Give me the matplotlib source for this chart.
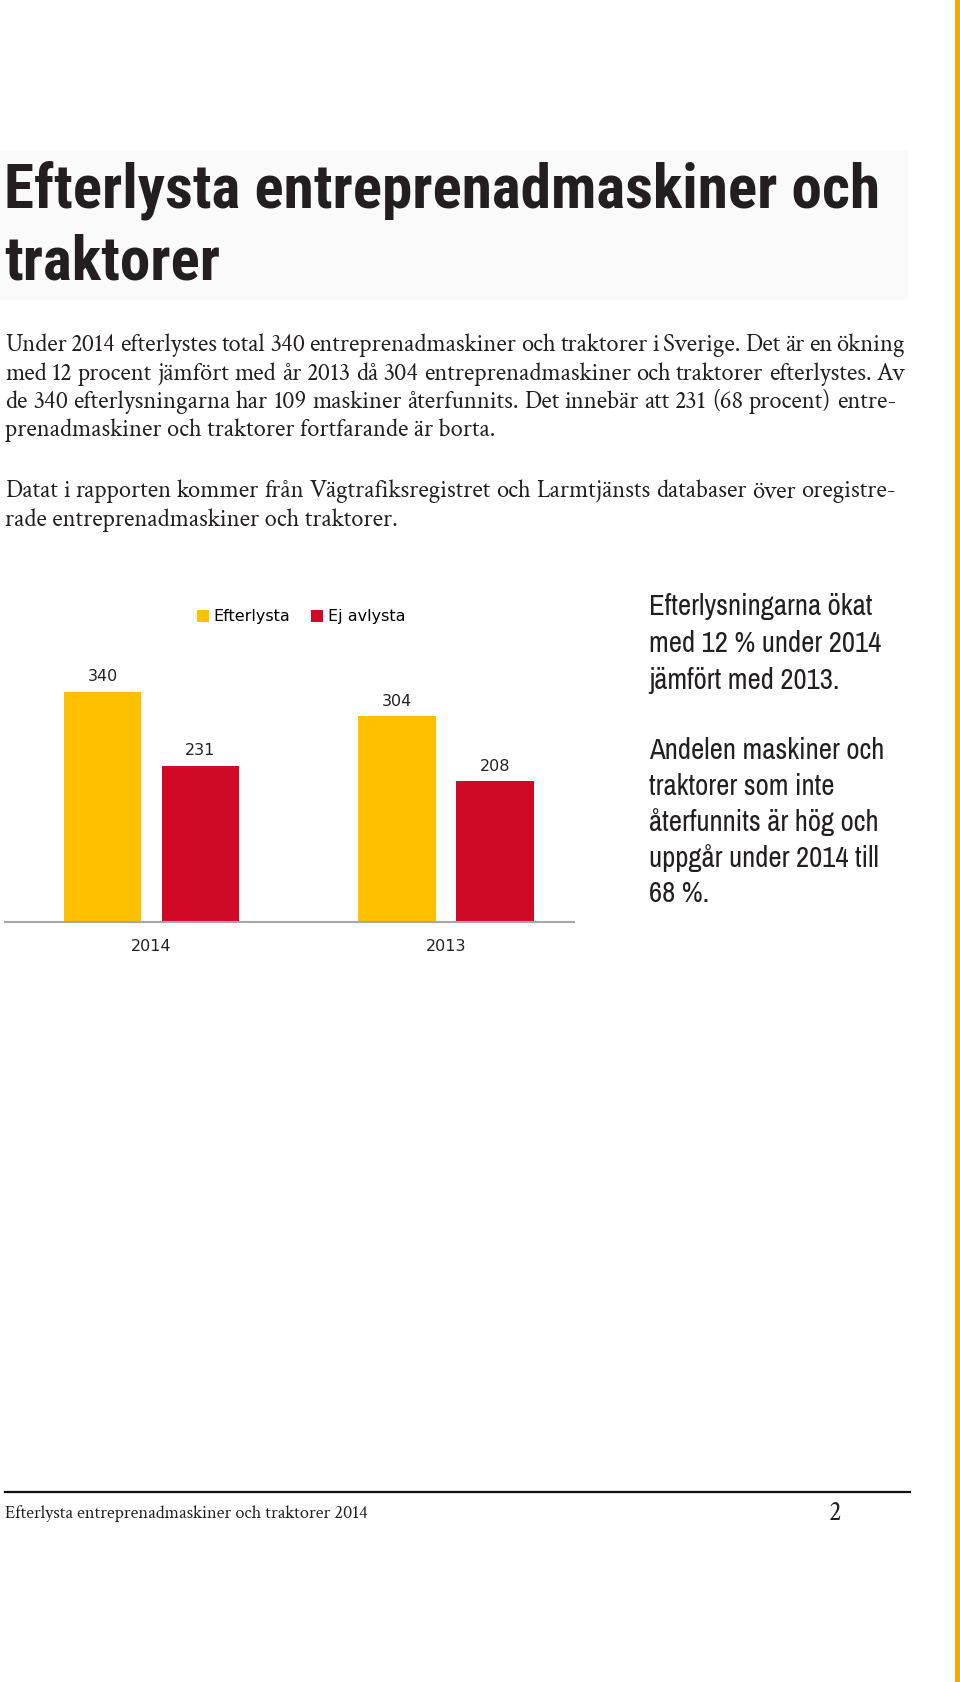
import matplotlib
matplotlib.use('Agg')
import matplotlib.pyplot as plt
import numpy as np
from matplotlib.patches import Rectangle, Patch
from matplotlib.lines import Line2D

# ---------------- data ----------------
years = ['2014', '2013']
efterlysta = [340, 304]
ej_avlysta = [231, 208]
series_names = ['Efterlysta', 'Ej avlysta']

title_lines = ['Efterlysta entreprenadmaskiner och', 'traktorer']
para1 = [
    'Under 2014 efterlystes total 340 entreprenadmaskiner och traktorer i Sverige. Det är en ökning',
    'med 12 procent jämfört med år 2013 då 304 entreprenadmaskiner och traktorer efterlystes. Av',
    'de 340 efterlysningarna har 109 maskiner återfunnits. Det innebär att 231 (68 procent) entre-',
    'prenadmaskiner och traktorer fortfarande är borta.',
]
para2 = [
    'Datat i rapporten kommer från Vägtrafiksregistret och Larmtjänsts databaser över oregistre-',
    'rade entreprenadmaskiner och traktorer.',
]
side_par1 = ['Efterlysningarna ökat', 'med 12 % under 2014', 'jämfört med 2013.']
side_par2 = ['Andelen maskiner och', 'traktorer som inte', 'återfunnits är hög och',
             'uppgår under 2014 till', '68 %.']
footer_text = 'Efterlysta entreprenadmaskiner och traktorer 2014'
page_number = '2'

# ---------------- figure ----------------
W, H = 960, 1682
fig = plt.figure(figsize=(W / 100, H / 100), dpi=100)
fig.patch.set_facecolor('white')
renderer = fig.canvas.get_renderer()

TITLE = ['Roboto Condensed', 'PT Sans Narrow', 'Encode Sans Condensed', 'DejaVu Sans']
COND = ['Archivo Narrow', 'Roboto Condensed', 'Encode Sans Condensed', 'DejaVu Sans']
SERIF = ['Crimson Text', 'Liberation Serif', 'DejaVu Serif']
SANS = ['DejaVu Sans']
INK = '#231f20'


def fx(x):
    return x / W


def fy(y):
    return 1 - y / H


def fit_size(text, target, base=20, **kw):
    t = fig.text(0, 0, text, size=base, **kw)
    w = t.get_window_extent(renderer).width
    t.remove()
    return base * target / w


# orange stripe on the right edge
fig.patches.append(Rectangle((fx(955), 0), fx(5), 1, transform=fig.transFigure,
                             facecolor='#F4A900', edgecolor='none', zorder=0))
# faint title background
fig.patches.append(Rectangle((0, fy(300)), fx(908), (300 - 150) / H, transform=fig.transFigure,
                             facecolor='#fafafa', edgecolor='none', zorder=0))

# ---------------- title ----------------
tsize = fit_size(title_lines[0], 873, family=TITLE, weight='bold')
for line, base in zip(title_lines, [208, 279]):
    fig.text(fx(4), fy(base), line, ha='left', va='baseline', family=TITLE, weight='bold',
             size=tsize, color=INK)

# ---------------- body paragraphs (justified) ----------------
bsize = fit_size(para1[-1], 490, family=SERIF)
body_font = dict(family=SERIF, size=bsize, color=INK)
X0 = 5


def draw_para(lines, baselines):
    for i, (line, base) in enumerate(zip(lines, baselines)):
        if i == len(lines) - 1:
            fig.text(fx(X0), fy(base), line, ha='left', va='baseline', **body_font)
            continue
        x1 = 896 if line.endswith('-') else 905
        words = line.split(' ')
        arts = [fig.text(0, fy(base), w, ha='left', va='baseline', **body_font) for w in words]
        widths = [a.get_window_extent(renderer).width for a in arts]
        gap = (x1 - X0 - sum(widths)) / (len(words) - 1)
        x = X0
        for a, w in zip(arts, widths):
            a.set_x(fx(x))
            x += w + gap


draw_para(para1, [351, 380, 408, 436])
draw_para(para2, [497, 526])

# ---------------- bar chart ----------------
ax_bottom, ax_top = 922.4, 600
ax = fig.add_axes([fx(5), fy(ax_bottom), fx(574) - fx(5), (ax_bottom - ax_top) / H])
x = np.arange(len(years))
width = 0.263
off = 0.166
b1 = ax.bar(x - off, efterlysta, width, color='#FFC000', label=series_names[0])
b2 = ax.bar(x + off, ej_avlysta, width, color='#D00A26', label=series_names[1])
ax.set_xlim(-0.497, 1.435)
ax.set_ylim(0, 475.4)
for s in ['top', 'left', 'right']:
    ax.spines[s].set_visible(False)
ax.spines['bottom'].set_color('#A6A6A6')
ax.spines['bottom'].set_linewidth(1.5)
ax.set_yticks([])
ax.set_xticks(x, years)
ax.tick_params(axis='x', length=0, pad=12, labelsize=11.5, labelcolor='#222222')
for lab in ax.get_xticklabels():
    lab.set_family(SANS)
ax.patch.set_alpha(0)
lab_font = dict(fontsize=11.5, color='#222222', family=SANS)
ax.bar_label(b1, padding=5.5, **lab_font)
ax.bar_label(b2, padding=5.5, **lab_font)

handles = [Patch(facecolor='#FFC000', edgecolor='none'), Patch(facecolor='#D00A26', edgecolor='none')]
fig.legend(handles, series_names, loc='center', bbox_to_anchor=(fx(301), fy(617)), ncol=2,
           frameon=False, handlelength=0.75, handleheight=0.75, handletextpad=0.3,
           columnspacing=1.3, prop=dict(family=SANS, size=11.5))

# ---------------- side text ----------------
ssize = fit_size(side_par1[0], 223, family=COND)
side_font = dict(family=COND, size=ssize, color=INK)
for line, base in zip(side_par1, [615, 652, 689]):
    fig.text(fx(649), fy(base), line, ha='left', va='baseline', **side_font)
for line, base in zip(side_par2, [759, 795, 831, 867, 902]):
    fig.text(fx(649), fy(base), line, ha='left', va='baseline', **side_font)

# ---------------- footer ----------------
fig.lines.append(Line2D([fx(5), fx(910)], [fy(1492), fy(1492)], transform=fig.transFigure,
                        color='#111111', linewidth=1.6))
fsize = fit_size(footer_text, 362, family=SERIF)
fig.text(fx(5), fy(1518), footer_text, ha='left', va='baseline', family=SERIF, size=fsize, color=INK)
fig.text(fx(829), fy(1520), page_number, ha='left', va='baseline', family=SERIF, size=fsize * 1.45,
         color=INK)

fig.savefig('out.png', dpi=100)
